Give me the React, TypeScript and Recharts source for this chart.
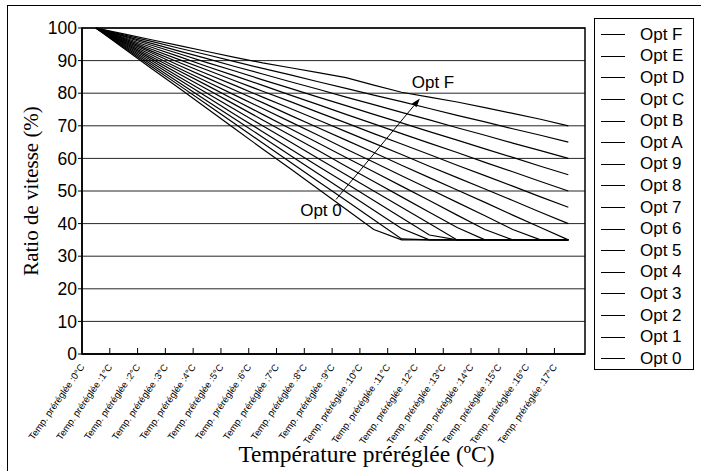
import React from "react";
import { CartesianGrid, Line, LineChart, ReferenceArea, ReferenceDot, ReferenceLine, XAxis, YAxis } from "recharts";

const temps = [0, 1, 2, 3, 4, 5, 6, 7, 8, 9, 10, 11, 12, 13, 14, 15, 16, 17];

const tempLabels = [
    "Temp. préréglée :0°C", "Temp. préréglée :1°C", "Temp. préréglée :2°C", "Temp. préréglée :3°C",
    "Temp. préréglée :4°C", "Temp. préréglée :5°C", "Temp. préréglée :6°C", "Temp. préréglée :7°C",
    "Temp. préréglée :8°C", "Temp. préréglée :9°C", "Temp. préréglée :10°C", "Temp. préréglée :11°C",
    "Temp. préréglée :12°C", "Temp. préréglée :13°C", "Temp. préréglée :14°C", "Temp. préréglée :15°C",
    "Temp. préréglée :16°C", "Temp. préréglée :17°C",
];

const yTicks = [0, 10, 20, 30, 40, 50, 60, 70, 80, 90, 100];

// speed ratio (%) per preset temperature
const optF = [100, 98.2, 96.4, 94.6, 92.8, 91, 89.3, 87.8, 86.3, 84.8, 82.5, 80.3, 78.8, 77.3, 75.6, 73.8, 72, 70];
const optE = [100, 97.9, 95.9, 93.8, 91.8, 89.7, 87.6, 85.6, 83.5, 81.5, 79.4, 77.4, 75.3, 73.2, 71.2, 69.1, 67.1, 65];
const optD = [100, 97.6, 95.3, 92.9, 90.6, 88.2, 85.9, 83.5, 81.2, 78.8, 76.5, 74.1, 71.8, 69.4, 67.1, 64.7, 62.4, 60];
const optC = [100, 97.4, 94.7, 92.1, 89.4, 86.8, 84.1, 81.5, 78.8, 76.2, 73.5, 70.9, 68.2, 65.6, 62.9, 60.3, 57.6, 55];
const optB = [100, 97.1, 94.1, 91.2, 88.2, 85.3, 82.4, 79.4, 76.5, 73.5, 70.6, 67.6, 64.7, 61.8, 58.8, 55.9, 52.9, 50];
const optA = [100, 96.8, 93.5, 90.3, 87.1, 83.8, 80.6, 77.4, 74.1, 70.9, 67.6, 64.4, 61.2, 57.9, 54.7, 51.5, 48.2, 45];
const opt9 = [100, 96.5, 92.9, 89.4, 85.9, 82.4, 78.8, 75.3, 71.8, 68.2, 64.7, 61.2, 57.6, 54.1, 50.6, 47.1, 43.5, 40];
const opt8 = [100, 96.2, 92.4, 88.5, 84.7, 80.9, 77.1, 73.2, 69.4, 65.6, 61.8, 57.9, 54.1, 50.3, 46.5, 42.6, 38.8, 35];
const opt7 = [100, 95.9, 91.8, 87.6, 83.5, 79.4, 75.3, 71.2, 67.1, 62.9, 58.8, 54.7, 50.6, 46.5, 42.4, 38.2, 35, 35];
const opt6 = [100, 95.6, 91.2, 86.8, 82.4, 77.9, 73.5, 69.1, 64.7, 60.3, 55.9, 51.5, 47.1, 42.6, 38.2, 35, 35, 35];
const opt5 = [100, 95.3, 90.6, 85.9, 81.2, 76.5, 71.8, 67.1, 62.4, 57.6, 52.9, 48.2, 43.5, 38.8, 35, 35, 35, 35];
const opt4 = [100, 95, 90, 85, 80, 75, 70, 65, 60, 55, 50, 45, 40, 35, 35, 35, 35, 35];
const opt3 = [100, 94.7, 89.4, 84.1, 78.8, 73.5, 68.2, 62.9, 57.6, 52.4, 47.1, 41.8, 36.5, 35, 35, 35, 35, 35];
const opt2 = [100, 94.4, 88.8, 83.2, 77.6, 72.1, 66.5, 60.9, 55.3, 49.7, 44.1, 38.5, 35, 35, 35, 35, 35, 35];
const opt1 = [100, 94.1, 88.2, 82.4, 76.5, 70.6, 64.7, 58.8, 52.9, 47.1, 41.2, 35.3, 35, 35, 35, 35, 35, 35];
const opt0 = [100, 93.8, 87.6, 81.5, 75.3, 69.1, 62.9, 56.8, 50.6, 44.4, 38.2, 35, 35, 35, 35, 35, 35, 35];

const seriesNames = ["Opt F", "Opt E", "Opt D", "Opt C", "Opt B", "Opt A", "Opt 9", "Opt 8", "Opt 7", "Opt 6", "Opt 5", "Opt 4", "Opt 3", "Opt 2", "Opt 1", "Opt 0"];
const seriesValues = [optF, optE, optD, optC, optB, optA, opt9, opt8, opt7, opt6, opt5, opt4, opt3, opt2, opt1, opt0];

const data = temps.map((t, i) => {
    const row: Record<string, number> = { t };
    seriesNames.forEach((name, s) => { row[name] = seriesValues[s][i]; });
    return row;
});

// ticks sit on the band edges, half a step left of each point
const xTicks = tempLabels.map((_, i) => i - 0.5);

const SANS = "'Liberation Sans', Arial, sans-serif";
const SERIF = "'Liberation Serif', 'Times New Roman', serif";

const XTick = (props: any) => {
    const { x, y, payload } = props;
    const idx = Math.round(payload.value + 0.5);
    const ax = x + 3;
    const ay = y + 13;
    return (
        <g>
            {idx > 0 && <line x1={x} y1={y - 6} x2={x} y2={y} stroke="#000" />}
            <text x={ax} y={ay} textAnchor="end" fontSize={9.5} fontFamily={SANS} fill="#000"
                transform={`rotate(-55, ${ax}, ${ay})`}>
                {tempLabels[idx]}
            </text>
        </g>
    );
};

const Arrow = (props: any) => {
    const { x1, y1, x2, y2 } = props;
    const len = Math.hypot(x2 - x1, y2 - y1);
    const ux = (x2 - x1) / len;
    const uy = (y2 - y1) / len;
    const bx = x2 - ux * 9;
    const by = y2 - uy * 9;
    return (
        <g>
            <line x1={x1} y1={y1} x2={bx} y2={by} stroke="#000" strokeWidth={1} />
            <polygon
                points={`${x2},${y2} ${bx - uy * 3},${by + ux * 3} ${bx + uy * 3},${by - ux * 3}`}
                fill="#000"
            />
        </g>
    );
};

const Legend = () => (
    <div style={{
        position: "absolute", left: 594, top: 18, width: 100, height: 352,
        border: "1px solid #000", boxSizing: "border-box", paddingTop: 5, background: "#fff",
    }}>
        {seriesNames.map((name) => (
            <div key={name} style={{ height: 21.6, display: "flex", alignItems: "center" }}>
                <div style={{ marginLeft: 6, width: 24, borderTop: "1px solid #000" }} />
                <span style={{ marginLeft: 15, fontFamily: SANS, fontSize: 17, color: "#000" }}>{name}</span>
            </div>
        ))}
    </div>
);

export default function App() {
    return (
        <div style={{ position: "absolute", left: 0, top: 0, width: 701, height: 471, background: "#fff", overflow: "hidden" }}>
            <div style={{ position: "absolute", left: 7, top: 5, width: 720, height: 500, borderLeft: "1px solid #000", borderTop: "1px solid #000" }} />
            <LineChart width={701} height={471} data={data} margin={{ top: 28, right: 116, bottom: 0, left: 32 }}
                style={{ position: "absolute", left: 0, top: 0 }}>
                <CartesianGrid vertical={false} stroke="#000" strokeOpacity={0.85} />
                <XAxis
                    dataKey="t"
                    type="number"
                    domain={[-0.5, 17.6]}
                    ticks={xTicks}
                    interval={0}
                    height={117}
                    tickSize={0}
                    tickMargin={0}
                    axisLine={{ stroke: "#000", strokeWidth: 1.5 }}
                    tick={<XTick />}
                    label={{ value: "Température préréglée (ºC)", position: "insideBottom", offset: 9, dx: 33, fontSize: 23.5, fontFamily: SERIF, fill: "#000" }}
                />
                <YAxis
                    domain={[0, 100]}
                    ticks={yTicks}
                    width={50}
                    tickSize={4}
                    tickMargin={1}
                    axisLine={{ stroke: "#000", strokeWidth: 1.5 }}
                    tickLine={{ stroke: "#000" }}
                    tick={{ fill: "#000", fontSize: 17.5, fontFamily: SANS }}
                    label={{ value: "Ratio de vitesse (%)", angle: -90, position: "insideLeft", offset: -1, style: { textAnchor: "middle" }, fontSize: 21, fontFamily: SERIF, fill: "#000" }}
                />
                <ReferenceArea x1={-0.5} x2={17.6} y1={0} y2={100} fill="none" stroke="#000" strokeWidth={1.5} />
                {seriesNames.map((name) => (
                    <Line key={name} dataKey={name} type="linear" stroke="#000" strokeWidth={1.2} dot={false} isAnimationActive={false} />
                ))}
                <ReferenceLine segment={[{ x: 8.64, y: 47.4 }, { x: 11.66, y: 78.4 }]} shape={<Arrow />} />
                <ReferenceDot x={12.13} y={83.4} r={0} fill="none" stroke="none"
                    label={{ value: "Opt F", position: "center", fontSize: 17, fontFamily: SANS, fill: "#000" }} />
                <ReferenceDot x={8.1} y={44.2} r={0} fill="none" stroke="none"
                    label={{ value: "Opt 0", position: "center", fontSize: 17, fontFamily: SANS, fill: "#000" }} />
            </LineChart>
            <Legend />
        </div>
    );
}
